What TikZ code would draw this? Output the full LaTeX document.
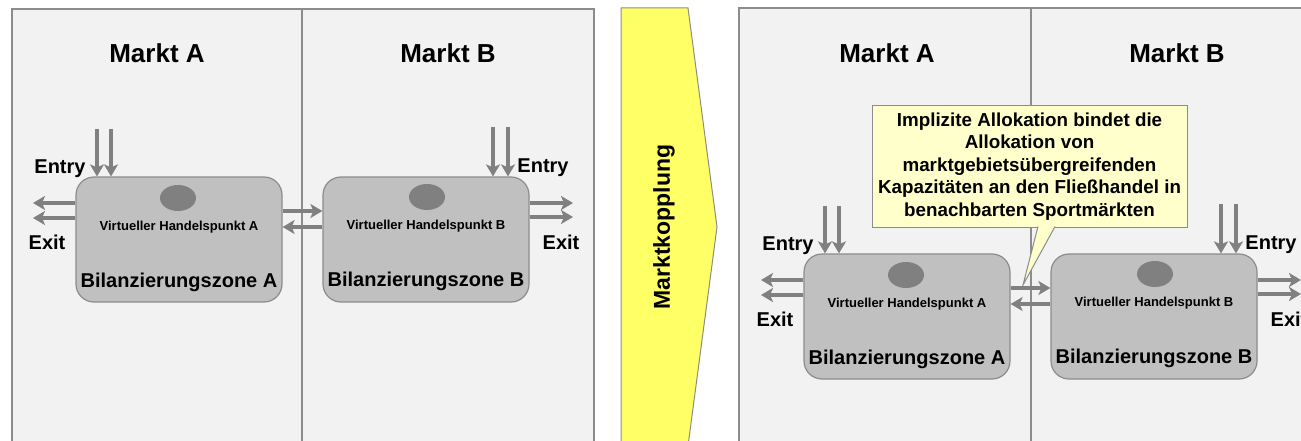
\documentclass[tikz,border=0pt]{standalone}
\usepackage{fontspec}
\setmainfont{Liberation Sans}
\usetikzlibrary{arrows.meta,shapes.geometric}

\definecolor{panel edge}{HTML}{8C8C8C}
\definecolor{panel area}{HTML}{F2F2F2}
\definecolor{zone area}{HTML}{C0C0C0}
\definecolor{flow grey}{HTML}{808080}
\definecolor{coupling}{HTML}{FFFF66}
\definecolor{note area}{HTML}{FFFFCC}

\tikzset{panel/.style={fill=panel area, draw=panel edge, line width=1.5pt},
	zone/.style={fill=zone area, draw=panel edge, line width=1.2pt, rounded corners=18pt,
		minimum width=206pt, minimum height=125pt},
	hub/.style={ellipse, fill=flow grey, minimum width=36pt, minimum height=26pt, inner sep=0pt},
	flow/.style={draw=flow grey, line width=4pt, -{Stealth[length=12pt,width=14pt,inset=3pt]}},
	title/.style={inner sep=0pt, anchor=base, font=\bfseries\fontsize{26}{30}\selectfont},
	zonelabel/.style={inner sep=0pt, anchor=base, font=\bfseries\fontsize{20}{24}\selectfont},
	hublabel/.style={inner sep=0pt, anchor=base, font=\bfseries\fontsize{13}{16}\selectfont},
	portlabel/.style={inner sep=0pt, anchor=base, font=\bfseries\fontsize{20}{24}\selectfont}}

% two balancing zones with their entry/exit points, #1 = name suffix
\newcommand\zonepair[1]{
	\node[zone] (zoneA#1) at (179,239.5) {};
	\node[zone] (zoneB#1) at (426,239.5) {};
	\node[hub] (hubA#1) at (178,198) {};
	\node[hub] (hubB#1) at (427,197) {};
	\node[hublabel] (vhpA#1) at (179,230) {Virtueller Handelspunkt A};
	\node[hublabel] (vhpB#1) at (426,229) {Virtueller Handelspunkt B};
	\node[zonelabel] (bzA#1) at (179,287) {Bilanzierungszone A};
	\node[zonelabel] (bzB#1) at (426,286) {Bilanzierungszone B};
	% entry and exit
	\coordinate (inA#1) at (97,129);
	\coordinate (inAA#1) at (111,129);
	\coordinate (inB#1) at (493,127);
	\coordinate (inBB#1) at (508,127);
	\coordinate (outA#1) at (33,203);
	\coordinate (outAA#1) at (33,218);
	\coordinate (outB#1) at (573,203);
	\coordinate (outBB#1) at (573,217);
	\draw[flow] (inA#1) -- (inA#1 |- zoneA#1.north);
	\draw[flow] (inAA#1) -- (inAA#1 |- zoneA#1.north);
	\draw[flow] (inB#1) -- (inB#1 |- zoneB#1.north);
	\draw[flow] (inBB#1) -- (inBB#1 |- zoneB#1.north);
	\draw[flow] (outA#1 -| zoneA#1.west) -- (outA#1);
	\draw[flow] (outAA#1 -| zoneA#1.west) -- (outAA#1);
	\draw[flow] (outB#1 -| zoneB#1.east) -- (outB#1);
	\draw[flow] (outBB#1 -| zoneB#1.east) -- (outBB#1);
	\node[portlabel] (entryA#1) at (60,173) {Entry};
	\node[portlabel] (exitA#1) at (47,249) {Exit};
	\node[portlabel] (entryB#1) at (543,172) {Entry};
	\node[portlabel] (exitB#1) at (561,249) {Exit};
	% links between the zones
	\draw[flow] (zoneA#1.east |- 0,211) -- (zoneB#1.west |- 0,211);
	\draw[flow] (zoneB#1.west |- 0,227) -- (zoneA#1.east |- 0,227);
}

\begin{document}
\begin{tikzpicture}[x=1pt, y=-1pt]
	\useasboundingbox (0,0) rectangle (1301,441);
	\clip (0,0) rectangle (1301,441);
	
	% market panels
	\draw[panel] (12,9) rectangle (302,460);
	\draw[panel] (302,9) rectangle (594,460);
	\draw[panel] (739,8) rectangle (1031,460);
	\draw[panel] (1031,8) rectangle (1320,460);
	\node[title] (mktA) at (157,63) {Markt A};
	\node[title] (mktB) at (448,63) {Markt B};
	\node[title] (mktA2) at (887,63) {Markt A};
	\node[title] (mktB2) at (1177,63) {Markt B};
	
	% coupling arrow
	\draw[fill=coupling, draw=panel edge, line width=1pt] (621,8) -- (688,8) -- (717,227)
		-- (688,446) -- (621,446) -- cycle;
	\node[rotate=90, inner sep=0pt, font=\bfseries\fontsize{23}{27}\selectfont] (kopplung)
		at (664,227) {Marktkopplung};
	
	% callout
	\node[fill=note area, draw=panel edge, line width=1pt, minimum width=315pt,
		minimum height=121pt, inner sep=0pt, align=center,
		font=\bfseries\fontsize{18.8}{22.5}\selectfont] (note) at (1029.5,166.5)
		{Implizite Allokation bindet die\\Allokation von\\marktgebietsübergreifenden\\
		Kapazitäten an den Fließhandel in\\benachbarten Sportmärkten};
	\coordinate (tip) at (1023,285);
	\path (note.south) ++(8.5,-1) coordinate (pl) ++(17,0) coordinate (pr);
	\fill[note area] (pl) -- (tip) -- (pr) -- cycle;
	\draw[panel edge, line width=1pt] (pl) -- (tip) -- (pr);
	
	\begin{scope}
		\zonepair{l}
	\end{scope}
	\begin{scope}[shift={(728,77)}]
		\zonepair{r}
	\end{scope}
\end{tikzpicture}
\end{document}
